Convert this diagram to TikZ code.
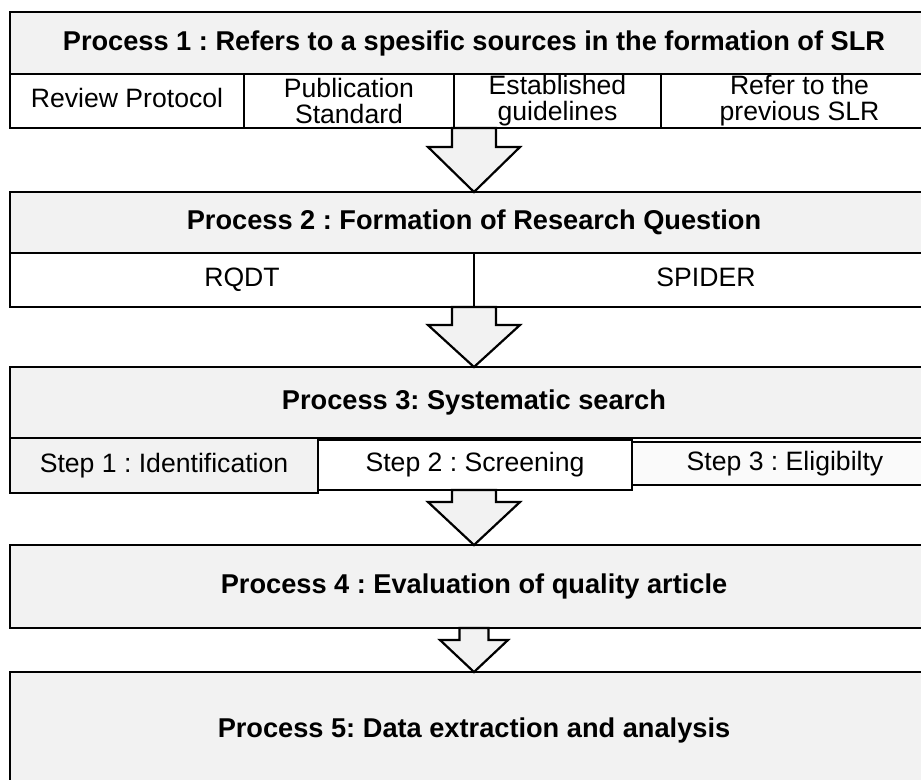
\documentclass[tikz,border=0pt]{standalone}
\usepackage{fontspec}
\setmainfont{Liberation Sans}
\usepackage{xcolor}
\usepackage{tikz}
\usetikzlibrary{positioning,calc}
\definecolor{boxgray}{HTML}{F2F2F2}
\definecolor{paleface}{HTML}{FAFAFA}
\frenchspacing
\newcommand{\flowarrow}[5]{%
    \draw [flow] let \p1=(#1), \p2=(#2) in
        (\x2-#3,\y1) -- (\x2-#3,\y2+#5) -- (\x2-#4,\y2+#5) -- (\x2,\y2)
        -- (\x2+#4,\y2+#5) -- (\x2+#3,\y2+#5) -- (\x2+#3,\y1) -- cycle;}
\begin{document}
\begin{tikzpicture}[x=0.5pt,y=-0.5pt,line width=1.1pt,
        every node/.style={outer sep=0pt},
        head/.style={draw,fill=boxgray,minimum width=464pt,
            font=\fontsize{13.6pt}{13pt}\selectfont\bfseries},
        cell/.style={draw,fill=white,minimum height=27pt,inner sep=0.5pt,align=center,
            font=\fontsize{13.3pt}{13pt}\selectfont},
        oneline/.style={text height=9.6pt,text depth=2.8pt},
        flow/.style={draw,fill=boxgray}]
    \useasboundingbox (0,0) rectangle (921,780);
    \node (proc1) [head,minimum height=31pt] at (474,43) {Process 1 : Refers to a spesific sources in the formation of SLR};
    \node (revprot) [cell,oneline,minimum width=117pt,below right=0pt and 0pt of proc1.south west] {Review Protocol};
    \node (pubstd) [cell,minimum width=105pt,right=0pt of revprot] {Publication\\Standard};
    \node (estguide) [cell,minimum width=103.5pt,right=0pt of pubstd] {Established\\guidelines};
    \node (prevslr) [cell,minimum width=138.5pt,right=0pt of estguide] {Refer to the\\previous SLR};

    \node (proc2) [head,minimum height=30.5pt] at (474,222.5) {Process 2 : Formation of Research Question};
    \node (rqdt) [cell,oneline,minimum width=232pt,below right=0pt and 0pt of proc2.south west] {RQDT};
    \node (spider) [cell,oneline,minimum width=232pt,right=0pt of rqdt] {SPIDER};

    \node (proc3) [head,minimum height=35.5pt] at (474,402.5) {Process 3: Systematic search};
    \node (ident) [cell,oneline,fill=boxgray,minimum width=154pt,minimum height=27.5pt,
        below right=0pt and 0pt of proc3.south west] {Step 1 : Identification};
    \node (screen) [cell,oneline,minimum width=157pt,minimum height=25pt,
        below right=1pt and 0pt of ident.north east] {Step 2 : Screening};
    \node (elig) [cell,oneline,fill=paleface,minimum width=153pt,minimum height=21.5pt,
        below right=1pt and 0pt of screen.north east] {Step 3 : Eligibilty};

    \node (proc4) [head,minimum height=41.5pt] at (474,586.5) {Process 4 : Evaluation of quality article};
    \node (proc5) [head,minimum height=58pt] at (474,730) {Process 5: Data extraction and analysis};

    \flowarrow{revprot.south}{proc2.north}{11pt}{23pt}{22.5pt}
    \flowarrow{rqdt.south}{proc3.north}{11pt}{23pt}{21pt}
    \flowarrow{screen.south}{proc4.north}{11pt}{23pt}{21.5pt}
    \flowarrow{proc4.south}{proc5.north}{7.25pt}{17pt}{16pt}
\end{tikzpicture}
\end{document}
